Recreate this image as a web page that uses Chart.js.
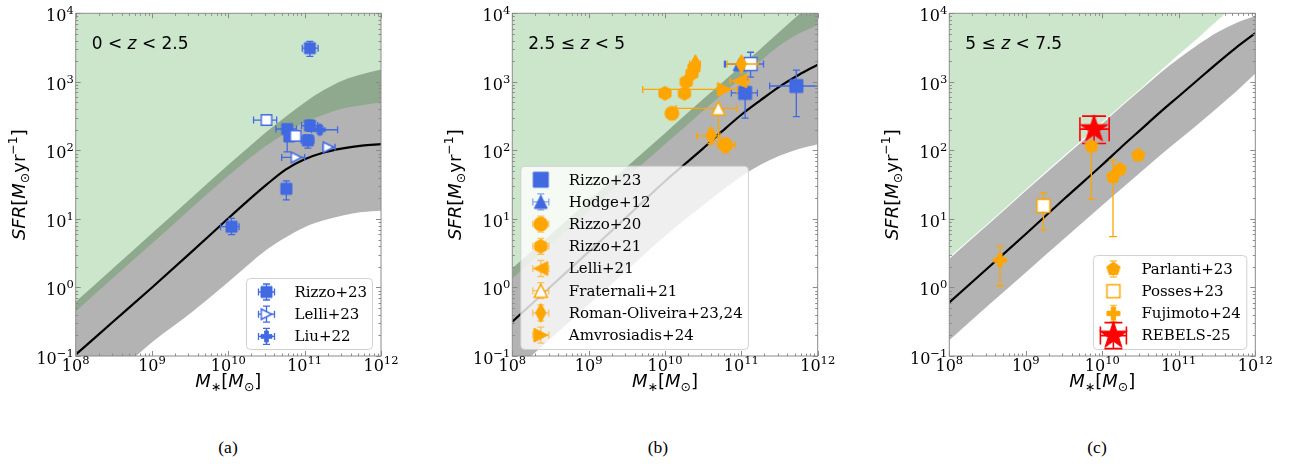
<!DOCTYPE html>
<html lang="en">
<head>
<meta charset="utf-8">
<title>SFR vs stellar mass</title>
<script src="https://cdn.jsdelivr.net/npm/chart.js@4.4.1/dist/chart.umd.min.js"></script>
<style>
  html, body { margin: 0; padding: 0; background: #fff; }
  #page { position: relative; width: 1291px; height: 464px; overflow: hidden; }
  #page canvas { position: absolute; top: 0; }
  .caption { position: absolute; top: 437px; width: 40px; margin-left: -20px; text-align: center;
             font: 17.5px "Liberation Serif", "DejaVu Serif", serif; line-height: 20px; color: #000; }
</style>
</head>
<body>
<div id="page">
  <canvas id="panelA" width="430" height="400" style="left:0px"></canvas>
  <canvas id="panelB" width="430" height="400" style="left:430px"></canvas>
  <canvas id="panelC" width="431" height="400" style="left:860px"></canvas>
  <div class="caption" style="left:228px">(a)</div>
  <div class="caption" style="left:658px">(b)</div>
  <div class="caption" style="left:1097px">(c)</div>
</div>
<script>
// ---- axis ticks ----
const massTicks = [1e8, 1e9, 1e10, 1e11, 1e12];
const massTickExp = ['8', '9', '10', '11', '12'];
const sfrTicks = [1e-1, 1e0, 1e1, 1e2, 1e3, 1e4];
const sfrTickExp = ['\u22121', '0', '1', '2', '3', '4'];

// ---- model curves, log10 SFR read on a grid of log10 M* ----
const massGrid = [8, 8.5, 9, 9.5, 10, 10.25, 10.5, 10.75, 11, 11.25, 11.5, 11.75, 12];

const msA      = [-0.98, -0.49, 0.00, 0.50, 1.01, 1.26, 1.50, 1.72, 1.87, 1.97, 2.03, 2.07, 2.09];
const bandTopA = [-0.21, 0.29, 0.79, 1.29, 1.79, 2.03, 2.27, 2.49, 2.70, 2.88, 3.02, 3.11, 3.18];
const bandLowA = [-1.78, -1.29, -0.80, -0.38, 0.08, 0.32, 0.55, 0.73, 0.88, 0.98, 1.05, 1.10, 1.12];
const greenA   = [-0.35, 0.15, 0.64, 1.14, 1.63, 1.86, 2.07, 2.25, 2.41, 2.52, 2.61, 2.66, 2.70];

const msB      = [-0.50, 0.01, 0.52, 1.03, 1.55, 1.79, 2.03, 2.28, 2.52, 2.73, 2.93, 3.10, 3.25];
const bandTopB = [0.28, 0.77, 1.27, 1.76, 2.25, 2.50, 2.75, 2.99, 3.24, 3.48, 3.73, 3.98, 4.20];
const bandLowB = [-1.25, -0.75, -0.25, 0.25, 0.75, 0.98, 1.20, 1.42, 1.62, 1.79, 1.92, 2.02, 2.09];
const greenB   = [0.13, 0.62, 1.11, 1.60, 2.09, 2.33, 2.58, 2.82, 3.06, 3.30, 3.53, 3.70, 3.83];

const msC      = [-0.22, 0.28, 0.78, 1.29, 1.79, 2.05, 2.30, 2.55, 2.79, 3.03, 3.27, 3.50, 3.71];
const bandTopC = [0.42, 0.91, 1.41, 1.90, 2.39, 2.64, 2.88, 3.12, 3.34, 3.54, 3.72, 3.86, 3.96];
const bandLowC = [-0.77, -0.27, 0.22, 0.71, 1.20, 1.44, 1.68, 1.92, 2.15, 2.38, 2.62, 2.86, 3.12];
const greenC   = [0.44, 0.93, 1.43, 1.92, 2.41, 2.66, 2.90, 3.15, 3.40, 3.64, 3.89, 4.14, 4.38];

// ---- observations: [M*, SFR, M* low, M* high, SFR low, SFR high] ----
const rizzo23A = [
  [1.17e11, 3100, 9.3e10, 1.5e11, 2350, 3900],
  [5.9e10, 205, 4.2e10, 7.8e10, 95, 235],
  [6.3e10, 160, null, null, null, null],
  [1.17e11, 230, 9.1e10, 1.48e11, 190, 275],
  [1.1e11, 140, 9.0e10, 1.32e11, 108, 168],
  [5.75e10, 27.5, 5.2e10, 6.4e10, 19, 36],
  [1.1e10, 7.7, 7.9e9, 1.38e10, 5.9, 10.2]
];
const rizzo23OpenA = [
  [3.16e10, 277, 2.14e10, 4.3e10, null, null],
  [7.6e10, 163, null, null, null, null]
];
const lelli23A = [
  [7.8e10, 79, 5.0e10, 1.0e11, null, null],
  [2.05e11, 111, 1.74e11, 2.5e11, null, null]
];
const liu22A = [
  [1.58e11, 200, 1.23e11, 2.7e11, 178, 225]
];

const rizzo23B = [
  [1.12e11, 690, 7.4e10, 1.62e11, 295, 1070],
  [5.25e11, 870, 2.35e11, 1.2e12, 310, 1480]
];
const rizzo23OpenB = [
  [1.32e11, 1820, 6.2e10, 1.95e11, 1175, 2700]
];
const hodge12B = [
  [9.5e10, 1800, 6.0e10, 1.3e11, null, null]
];
const rizzo20B = [
  [1.23e10, 347, null, null, null, null],
  [6.2e10, 120, 4.9e10, 8.3e10, 91, 151]
];
const rizzo21B = [
  [1.0e10, 680, null, null, null, null],
  [1.8e10, 680, null, null, null, null],
  [1.9e10, 1000, null, null, null, null],
  [2.25e10, 1320, 1.95e10, 2.6e10, null, null],
  [2.4e10, 1600, 2.1e10, 2.75e10, null, null]
];
const lelli21B = [
  [9.5e10, 1030, 7.1e10, 1.26e11, null, null]
];
const fraternali21B = [
  [5.0e10, 410, 1.4e10, 8.7e10, 135, 450]
];
const romanOliveiraB = [
  [4.0e10, 163, 2.6e10, 5.25e10, 125, 200],
  [1.0e11, 1820, 6.5e10, 1.66e11, null, null],
  [2.5e10, 1820, 2.1e10, 2.9e10, null, null]
];
const amvrosiadisB = [
  [6.0e10, 775, 5.1e9, 8.7e10, null, null]
];

const parlantiC = [
  [7.2e9, 115, null, null, 19.5, 130],
  [1.38e10, 41, null, null, 5.5, 72],
  [1.7e10, 53, null, null, null, null],
  [2.95e10, 85, null, null, null, null]
];
const possesC = [
  [1.7e9, 15.5, null, null, 6.9, 24]
];
const fujimotoC = [
  [4.6e8, 2.5, null, null, 1.05, 4.0]
];
const rebelsC = [
  [7.8e9, 204, 5.1e9, 1.23e10, 126, 316]
];

const BLUE = '#4169e1', ORANGE = '#ffa500', RED = '#ff0000';
const SERIF = '"DejaVu Serif"', SANS = '"DejaVu Sans"';

// marker glyphs, drawn once into small canvases and used as pointStyle
function marker(shape, size, fill, edge, lw) {
  const s = Math.ceil(size + 2 * lw + 2);
  const c = document.createElement('canvas');
  c.width = s; c.height = s;
  const g = c.getContext('2d');
  g.translate(s / 2, s / 2);
  const r = size / 2;
  const poly = pts => {
    g.beginPath();
    pts.forEach((p, i) => i ? g.lineTo(p[0], p[1]) : g.moveTo(p[0], p[1]));
    g.closePath();
  };
  const ring = (n, rOut, rIn) => {
    const m = rIn ? 2 * n : n, pts = [];
    for (let k = 0; k < m; k++) {
      const rr = rIn && k % 2 ? rIn : rOut;
      const a = -Math.PI / 2 + k * 2 * Math.PI / m;
      pts.push([rr * Math.cos(a), rr * Math.sin(a)]);
    }
    poly(pts);
  };
  switch (shape) {
    case 'square': poly([[-r, -r], [r, -r], [r, r], [-r, r]]); break;
    case 'circle': g.beginPath(); g.arc(0, 0, r, 0, 2 * Math.PI); break;
    case 'hexagon': ring(6, r); break;
    case 'pentagon': ring(5, r); break;
    case 'star': ring(5, r, r * 0.381); break;
    case 'diamond': poly([[0, -r], [0.55 * r, 0], [0, r], [-0.55 * r, 0]]); break;
    case 'triUp': poly([[0, -r], [r, r], [-r, r]]); break;
    case 'triLeft': poly([[-r, 0], [r, -r], [r, r]]); break;
    case 'triRight': poly([[r, 0], [-r, r], [-r, -r]]); break;
    case 'plus': {
      const t = r / 3;
      poly([[-t, -r], [t, -r], [t, -t], [r, -t], [r, t], [t, t], [t, r], [-t, r], [-t, t], [-r, t], [-r, -t], [-t, -t]]);
      break;
    }
  }
  g.fillStyle = fill; g.fill();
  g.lineWidth = lw; g.strokeStyle = edge; g.stroke();
  return c;
}

function curve(values, extra) {
  return Object.assign({
    data: massGrid.map((g, i) => ({ x: 10 ** g, y: 10 ** values[i] })),
    pointRadius: 0, borderWidth: 0, borderColor: 'rgba(0,0,0,0)', fill: false,
    cubicInterpolationMode: 'monotone'
  }, extra);
}

function points(rows, style, extra) {
  return Object.assign({
    data: rows.map(r => ({ x: r[0], y: r[1], xLo: r[2], xHi: r[3], yLo: r[4], yHi: r[5] })),
    showLine: false, pointStyle: style, pointRadius: 6, pointHoverRadius: 6,
    errWidth: 1.3, capSize: 3.5, order: 1
  }, extra);
}

function modelDatasets(green, top, low, ms) {
  return [
    curve(green, { fill: 'end', backgroundColor: 'rgba(0,128,0,0.2)', order: 3 }),
    curve(top, { fill: '+1', backgroundColor: 'rgba(128,128,128,0.6)', order: 4 }),
    curve(low, { order: 4 }),
    curve(ms, { borderColor: '#000', borderWidth: 2.2, order: 2 })
  ];
}

// text made of pieces with their own font and vertical offset
function drawParts(ctx, parts, x, y, align) {
  let w = 0;
  for (const p of parts) { ctx.font = p.font; w += ctx.measureText(p.t).width; }
  let cx = align === 'center' ? x - w / 2 : align === 'right' ? x - w : x;
  for (const p of parts) {
    ctx.font = p.font;
    ctx.fillText(p.t, cx, y + (p.dy || 0));
    cx += ctx.measureText(p.t).width;
  }
}
const powerLabel = exp => [
  { t: '10', font: '16px ' + SERIF },
  { t: exp, font: '11.5px ' + SERIF, dy: -7 }
];
const T = '18px ' + SANS, TI = 'italic 18px ' + SANS, TS = '12.5px ' + SANS;
const xTitle = [
  { t: 'M', font: TI }, { t: '\u2217', font: TS, dy: 4 }, { t: '[', font: T },
  { t: 'M', font: TI }, { t: '\u2299', font: TS, dy: 4 }, { t: ']', font: T }
];
const yTitle = [
  { t: 'SFR', font: TI }, { t: '[', font: T }, { t: 'M', font: TI },
  { t: '\u2299', font: TS, dy: 4 }, { t: 'yr', font: T },
  { t: '\u22121', font: TS, dy: -8 }, { t: ']', font: T }
];
const zLabel = (a, b) => [
  { t: a, font: '17px ' + SANS }, { t: 'z', font: 'italic 17px ' + SANS }, { t: b, font: '17px ' + SANS }
];

const panelInfo = {};

const errorBars = {
  id: 'errorBars',
  beforeDatasetDraw(chart, args) {
    const ds = chart.data.datasets[args.index];
    if (!ds.errColor) return;
    const { ctx, chartArea: a, scales: { x, y } } = chart;
    const c = ds.capSize;
    ctx.save();
    ctx.beginPath(); ctx.rect(a.left, a.top, a.width, a.height); ctx.clip();
    ctx.strokeStyle = ds.errColor; ctx.lineWidth = ds.errWidth;
    ctx.beginPath();
    ds.data.forEach(p => {
      const px = x.getPixelForValue(p.x), py = y.getPixelForValue(p.y);
      if (p.xLo != null) {
        const l = x.getPixelForValue(p.xLo), h = x.getPixelForValue(p.xHi);
        ctx.moveTo(l, py); ctx.lineTo(h, py);
        ctx.moveTo(l, py - c); ctx.lineTo(l, py + c);
        ctx.moveTo(h, py - c); ctx.lineTo(h, py + c);
      }
      if (p.yLo != null) {
        const l = y.getPixelForValue(p.yLo), h = y.getPixelForValue(p.yHi);
        ctx.moveTo(px, l); ctx.lineTo(px, h);
        ctx.moveTo(px - c, l); ctx.lineTo(px + c, l);
        ctx.moveTo(px - c, h); ctx.lineTo(px + c, h);
      }
    });
    ctx.stroke();
    ctx.restore();
  }
};

const panelDecor = {
  id: 'panelDecor',
  afterDatasetsDraw(chart) {
    const info = panelInfo[chart.canvas.id];
    const { ctx, chartArea: a, scales: { x, y } } = chart;
    ctx.save();

    // frame and inward ticks on all four sides
    ctx.strokeStyle = '#8a8a8a';
    ctx.lineWidth = 1;
    ctx.strokeRect(a.left, a.top, a.width, a.height);
    ctx.beginPath();
    massTicks.forEach(d => {
      for (let k = 1; k <= 9; k++) {
        const v = k * d;
        if (v > massTicks[massTicks.length - 1]) break;
        const px = Math.round(x.getPixelForValue(v)) + 0.5, len = k === 1 ? 5 : 2.5;
        ctx.moveTo(px, a.bottom); ctx.lineTo(px, a.bottom - len);
        ctx.moveTo(px, a.top); ctx.lineTo(px, a.top + len);
      }
    });
    sfrTicks.forEach(d => {
      for (let k = 1; k <= 9; k++) {
        const v = k * d;
        if (v > sfrTicks[sfrTicks.length - 1]) break;
        const py = Math.round(y.getPixelForValue(v)) + 0.5, len = k === 1 ? 5 : 2.5;
        ctx.moveTo(a.left, py); ctx.lineTo(a.left + len, py);
        ctx.moveTo(a.right, py); ctx.lineTo(a.right - len, py);
      }
    });
    ctx.stroke();

    // tick labels
    ctx.fillStyle = '#000';
    ctx.textBaseline = 'alphabetic';
    massTicks.forEach((v, i) => drawParts(ctx, powerLabel(massTickExp[i]), x.getPixelForValue(v), a.bottom + 15, 'center'));
    sfrTicks.forEach((v, i) => drawParts(ctx, powerLabel(sfrTickExp[i]), a.left - 2, y.getPixelForValue(v) + 8, 'right'));

    // axis titles
    drawParts(ctx, xTitle, (a.left + a.right) / 2, a.bottom + 31, 'center');
    ctx.save();
    ctx.translate(a.left - 51, (a.top + a.bottom) / 2);
    ctx.rotate(-Math.PI / 2);
    drawParts(ctx, yTitle, 0, 0, 'center');
    ctx.restore();

    // redshift range
    drawParts(ctx, info.zText, a.left + 16, a.top + 36, 'left');

    // legend box inside the axes
    const L = info.legend;
    const items = chart.data.datasets.filter(d => d.label);
    const bx = L.side === 'left' ? a.left + 8.5 : a.right - 8.5 - L.w;
    const by = a.bottom - 6.5 - L.h;
    ctx.beginPath();
    ctx.roundRect(bx, by, L.w, L.h, 4);
    ctx.fillStyle = 'rgba(255,255,255,0.8)';
    ctx.fill();
    ctx.strokeStyle = 'rgba(204,204,204,0.9)';
    ctx.stroke();
    items.forEach((ds, i) => {
      const cy = by + 13.5 + i * 22.2, mx = bx + 20;
      if (ds.legendErr) {
        const e = ds.legendErrLen || 8, c = ds.legendCap || 3.5;
        ctx.strokeStyle = ds.legendErrColor || ds.errColor;
        ctx.lineWidth = ds.errWidth;
        ctx.beginPath();
        if (ds.legendErr.includes('x')) {
          ctx.moveTo(mx - e, cy); ctx.lineTo(mx + e, cy);
          ctx.moveTo(mx - e, cy - c); ctx.lineTo(mx - e, cy + c);
          ctx.moveTo(mx + e, cy - c); ctx.lineTo(mx + e, cy + c);
        }
        if (ds.legendErr.includes('y')) {
          ctx.moveTo(mx, cy - e); ctx.lineTo(mx, cy + e);
          ctx.moveTo(mx - c, cy - e); ctx.lineTo(mx + c, cy - e);
          ctx.moveTo(mx - c, cy + e); ctx.lineTo(mx + c, cy + e);
        }
        ctx.stroke();
      }
      const m = ds.legendMarker || ds.pointStyle;
      ctx.drawImage(m, mx - m.width / 2, cy - m.height / 2);
      ctx.fillStyle = '#000';
      ctx.font = '15px ' + SERIF;
      ctx.textBaseline = 'middle';
      ctx.fillText(ds.label, bx + 48, cy + 1);
      ctx.textBaseline = 'alphabetic';
    });
    ctx.restore();
  }
};

function makeChart(id, pad, datasets) {
  return new Chart(document.getElementById(id), {
    type: 'line',
    data: { datasets },
    options: {
      responsive: false,
      animation: false,
      events: [],
      devicePixelRatio: 1,
      layout: { padding: pad },
      scales: {
        x: { type: 'logarithmic', min: 1e8, max: 1e12, display: false },
        y: { type: 'logarithmic', min: 0.1, max: 1e4, display: false }
      },
      plugins: { legend: { display: false }, tooltip: { enabled: false } }
    },
    plugins: [errorBars, panelDecor]
  });
}

// ---- panel (a): 0 < z < 2.5 ----
panelInfo.panelA = { zText: zLabel('0 < ', ' < 2.5'), legend: { side: 'right', w: 126, h: 71 } };
makeChart('panelA', { left: 75.7, right: 49, top: 13.3, bottom: 44 }, [
  ...modelDatasets(greenA, bandTopA, bandLowA, msA),
  points(rizzo23A, marker('square', 11, BLUE, BLUE, 1), { label: 'Rizzo+23', errColor: BLUE, legendErr: 'xy', order: 1 }),
  points(rizzo23OpenA, marker('square', 10.5, '#fff', BLUE, 1.4), { errColor: BLUE, order: 0 }),
  points(lelli23A, marker('triRight', 10.5, '#fff', BLUE, 1.4), { label: 'Lelli+23', errColor: BLUE, legendErr: 'xy', order: 0 }),
  points(liu22A, marker('plus', 11, BLUE, BLUE, 1), { label: 'Liu+22', errColor: BLUE, legendErr: 'xy', order: 0 })
]);

// ---- panel (b): 2.5 <= z < 5 ----
panelInfo.panelB = { zText: zLabel('2.5 \u2264 ', ' < 5'), legend: { side: 'left', w: 227.6, h: 183.3 } };
makeChart('panelB', { left: 82.3, right: 42.3, top: 13.3, bottom: 44 }, [
  ...modelDatasets(greenB, bandTopB, bandLowB, msB),
  points(rizzo23B, marker('square', 13, BLUE, BLUE, 1), { label: 'Rizzo+23', errColor: BLUE, order: 1,
    legendMarker: marker('square', 15, BLUE, BLUE, 1) }),
  points(rizzo23OpenB, marker('square', 13, '#fff', BLUE, 1.4), { errColor: BLUE, order: 1 }),
  points(hodge12B, marker('triUp', 13, BLUE, BLUE, 1), { label: 'Hodge+12', errColor: BLUE, order: 1,
    legendErr: 'xy', legendErrColor: 'rgba(65,105,225,0.6)' }),
  points(rizzo20B, marker('circle', 14, ORANGE, ORANGE, 1), { label: 'Rizzo+20', errColor: ORANGE, order: 0,
    legendErr: 'xy', legendErrColor: 'rgba(255,165,0,0.6)' }),
  points(rizzo21B, marker('hexagon', 14, ORANGE, ORANGE, 1), { label: 'Rizzo+21', errColor: ORANGE, order: 0,
    legendErr: 'xy', legendErrColor: 'rgba(255,165,0,0.6)' }),
  points(lelli21B, marker('triLeft', 14, ORANGE, ORANGE, 1), { label: 'Lelli+21', errColor: ORANGE, order: 0,
    legendErr: 'xy', legendErrColor: 'rgba(255,165,0,0.6)' }),
  points(fraternali21B, marker('triUp', 13, '#fff', ORANGE, 1.5), { label: 'Fraternali+21', errColor: ORANGE, order: 0,
    legendErr: 'xy', legendErrColor: 'rgba(255,165,0,0.6)' }),
  points(romanOliveiraB, marker('diamond', 19, ORANGE, ORANGE, 1), { label: 'Roman-Oliveira+23,24', errColor: ORANGE, order: 0,
    legendErr: 'xy', legendErrColor: 'rgba(255,165,0,0.6)' }),
  points(amvrosiadisB, marker('triRight', 14, ORANGE, ORANGE, 1), { label: 'Amvrosiadis+24', errColor: ORANGE, order: 0,
    legendErr: 'xy', legendErrColor: 'rgba(255,165,0,0.6)' })
]);

// ---- panel (c): 5 <= z < 7.5 ----
panelInfo.panelC = { zText: zLabel('5 \u2264 ', ' < 7.5'), legend: { side: 'right', w: 153.4, h: 94 } };
makeChart('panelC', { left: 89.3, right: 35.7, top: 13.3, bottom: 44 }, [
  ...modelDatasets(greenC, bandTopC, bandLowC, msC),
  points(parlantiC, marker('pentagon', 14, ORANGE, ORANGE, 1), { label: 'Parlanti+23', errColor: ORANGE, order: 0,
    capSize: 4, legendErr: 'y', legendErrColor: 'rgba(255,165,0,0.7)' }),
  points(possesC, marker('square', 13, '#fff', ORANGE, 1.5), { label: 'Posses+23', errColor: ORANGE, capSize: 4 }),
  points(fujimotoC, marker('plus', 13, ORANGE, ORANGE, 1), { label: 'Fujimoto+24', errColor: ORANGE, capSize: 4,
    legendErr: 'y', legendErrColor: 'rgba(255,165,0,0.7)' }),
  points(rebelsC, marker('star', 29, RED, RED, 1), { label: 'REBELS-25', errColor: RED, errWidth: 1.6, capSize: 12,
    legendErr: 'xy', legendErrLen: 13, legendCap: 9 })
]);
</script>
</body>
</html>
